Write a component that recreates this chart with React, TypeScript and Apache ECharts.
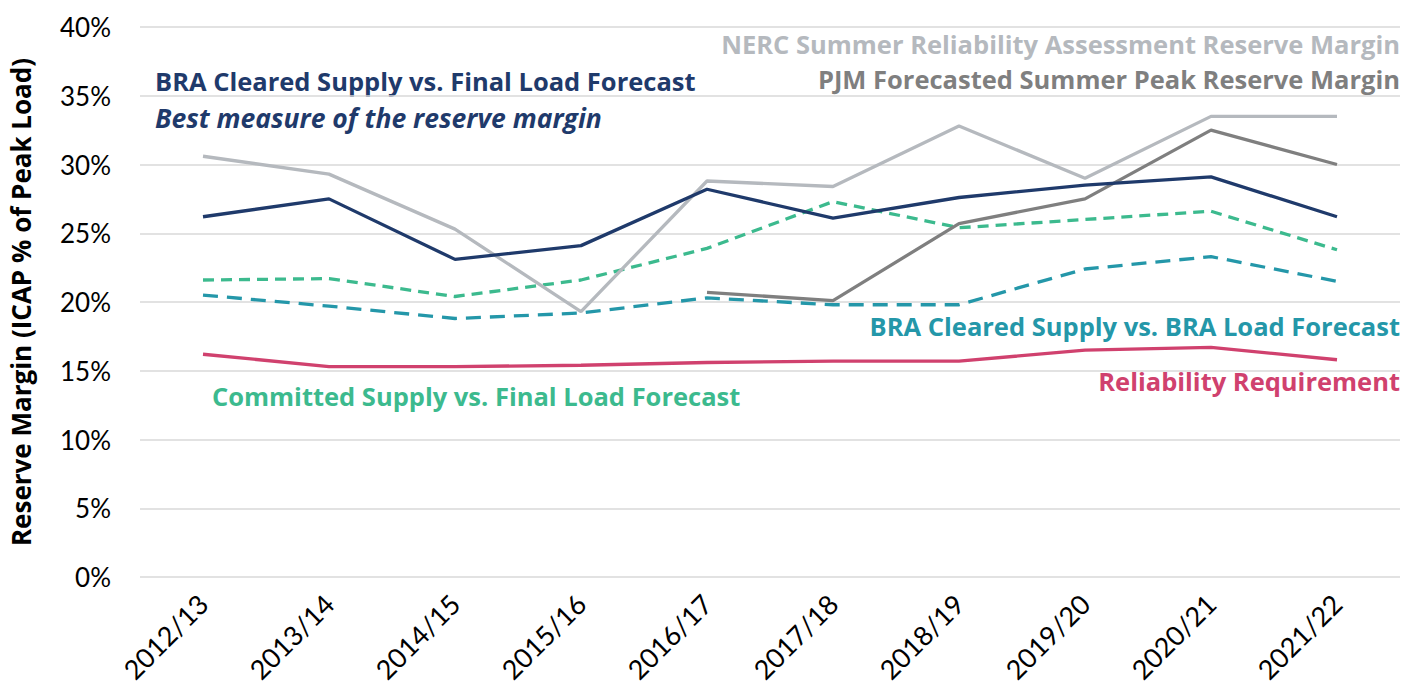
import React, { useEffect, useRef } from "react";
import * as echarts from "echarts";

const categories = ["2012/13", "2013/14", "2014/15", "2015/16", "2016/17", "2017/18", "2018/19", "2019/20", "2020/21", "2021/22"];
const braFinal = [26.2, 27.5, 23.1, 24.1, 28.2, 26.1, 27.6, 28.5, 29.1, 26.2];
const nerc = [30.6, 29.3, 25.3, 19.3, 28.8, 28.4, 32.8, 29.0, 33.5, 33.5];
const pjm = [null, null, null, null, 20.7, 20.1, 25.7, 27.5, 32.5, 30.0];
const committed = [21.6, 21.7, 20.4, 21.6, 23.9, 27.3, 25.4, 26.0, 26.6, 23.8];
const braBra = [20.5, 19.7, 18.8, 19.2, 20.3, 19.8, 19.8, 22.4, 23.3, 21.5];
const reliability = [16.2, 15.3, 15.3, 15.4, 15.6, 15.7, 15.7, 16.5, 16.7, 15.8];

const NAVY = "#1f3a6b";
const LIGHTGRAY = "#b5b9be";
const GRAY = "#7f7f7f";
const GREEN = "#3cba8e";
const TEAL = "#2497a9";
const PINK = "#d0416e";
const FONT = "Lato";
const NOTE_FONT = "'Open Sans'";

export default function App() {
  const ref = useRef<HTMLDivElement>(null);
  useEffect(() => {
    const chart = echarts.init(ref.current!, null, { renderer: "svg" });
    const line = (name: string, data: any[], color: string, dash?: number[]) => ({
      name,
      type: "line",
      data,
      symbol: "none",
      connectNulls: false,
      lineStyle: { color, width: 3.3, type: dash ? dash : "solid", cap: "butt" },
      z: 2,
    });
    const txt = (text: string, x: number, y: number, color: string, align: string, italic = false) => ({
      type: "text",
      x,
      y,
      style: {
        text,
        fill: color,
        font: `${italic ? "italic " : ""}bold ${italic ? 26.5 : 25.5}px ${NOTE_FONT}`,
        textAlign: align,
        textVerticalAlign: "middle",
      },
    });
    chart.setOption({
      animation: false,
      backgroundColor: "#ffffff",
      grid: { left: 140, right: 6, top: 27, bottom: 110 },
      xAxis: {
        type: "category",
        data: categories,
        boundaryGap: true,
        axisLine: { show: false },
        axisTick: { show: false },
        axisLabel: { rotate: 45, fontFamily: FONT, fontSize: 27, color: "#000", margin: 22 },
      },
      yAxis: {
        type: "value",
        min: 0,
        max: 40,
        interval: 5,
        name: "Reserve Margin (ICAP % of Peak Load)",
        nameLocation: "middle",
        nameRotate: 90,
        nameGap: 106,
        nameTextStyle: { fontFamily: NOTE_FONT, fontSize: 26, fontWeight: "bold", color: "#000" },
        axisLine: { show: false },
        axisTick: { show: false },
        axisLabel: { formatter: "{value}%", fontFamily: FONT, fontSize: 26, color: "#000", margin: 29 },
        splitLine: { lineStyle: { color: "#d9d9d9", width: 1.5 } },
      },
      series: [
        line("Reliability Requirement", reliability, PINK),
        line("BRA Cleared Supply vs. BRA Load Forecast", braBra, TEAL, [15, 9]),
        line("Committed Supply vs. Final Load Forecast", committed, GREEN, [11, 7]),
        line("PJM Forecasted Summer Peak Reserve Margin", pjm, GRAY),
        line("NERC Summer Reliability Assessment Reserve Margin", nerc, LIGHTGRAY),
        line("BRA Cleared Supply vs. Final Load Forecast", braFinal, NAVY),
      ],
      graphic: [
        txt("BRA Cleared Supply vs. Final Load Forecast", 155, 81, NAVY, "left"),
        txt("Best measure of the reserve margin", 155, 118, NAVY, "left", true),
        txt("NERC Summer Reliability Assessment Reserve Margin", 1400, 44, LIGHTGRAY, "right"),
        txt("PJM Forecasted Summer Peak Reserve Margin", 1400, 79, GRAY, "right"),
        txt("BRA Cleared Supply vs. BRA Load Forecast", 1400, 326, TEAL, "right"),
        txt("Reliability Requirement", 1400, 381, PINK, "right"),
        txt("Committed Supply vs. Final Load Forecast", 212, 396, GREEN, "left"),
      ],
    });
    return () => chart.dispose();
  }, []);
  return <div ref={ref} style={{ position: "fixed", left: 0, top: 0, width: 1406, height: 687 }} />;
}
